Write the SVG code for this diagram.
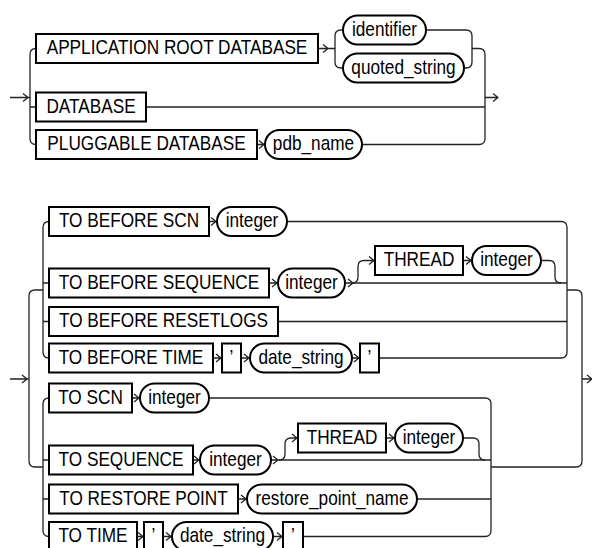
<svg xmlns="http://www.w3.org/2000/svg" width="592" height="548" viewBox="0 0 592 548">
<style>
.b{fill:#fff;stroke:#000;stroke-width:2}
.l{fill:none;stroke:#222;stroke-width:1.3;stroke-linejoin:round}
.t{font-family:"Liberation Sans",Arial,sans-serif;font-size:21px;fill:#000;text-anchor:middle}
</style>
<rect width="592" height="548" fill="#fff"/>
<g id="connectors" class="l">
<path d="M10 97.5H30M23 93.5L28 97.5L23 101.5"/>
<path d="M36 48.5Q30 48.5 30 54.5V138.5Q30 144.5 36 144.5M30 107H36"/>
<path d="M318 48.5H335M323 44.5L328 48.5L323 52.5"/>
<path d="M343 30H341Q335 30 335 36V62Q335 68 341 68H343"/>
<path d="M426 30H466Q472 30 472 36V62Q472 68 466 68H464"/>
<path d="M472 48.5H479Q485 48.5 485 54.5V138.5Q485 144.5 479 144.5H362"/>
<path d="M146 107H485"/>
<path d="M257 144.5H265M259 140.5L264 144.5L259 148.5"/>
<path d="M485 97.5H498M493 93.5L498 97.5L493 101.5"/>
<path d="M10 379H29M22 375L27 379L22 383"/>
<path d="M43 290H35Q29 290 29 296V461Q29 467 35 467H43"/>
<path d="M567 290H576Q582 290 582 296V461Q582 467 576 467H491"/>
<path d="M582 379H592M587 375L592 379L587 383"/>
<path d="M49 221.5Q43 221.5 43 227.5V352Q43 358 49 358M43 283H49M43 321.5H49"/>
<path d="M209 221.5H217M211 217.5L216 221.5L211 225.5"/>
<path d="M287 221.5H561Q567 221.5 567 227.5V352Q567 358 561 358H379"/>
<path d="M269 283H278M272 279L277 283L272 287"/>
<path d="M345 283H567M348 279L353 283L348 287"/>
<path d="M352 283Q358 283 358 277V266.5Q358 260.5 364 260.5H375M369 256.5L374 260.5L369 264.5"/>
<path d="M463 260.5H472M466 256.5L471 260.5L466 264.5"/>
<path d="M541 260.5H549Q555 260.5 555 266.5V277Q555 283 561 283"/>
<path d="M278 321.5H567"/>
<path d="M213 358H222M216 354L221 358L216 362"/>
<path d="M241 358H250M244 354L249 358L244 362"/>
<path d="M352 358H360M354 354L359 358L354 362"/>
<path d="M49 398Q43 398 43 404V530.5Q43 536.5 49 536.5M43 460H49M43 499H49"/>
<path d="M132 398H140M134 394L139 398L134 402"/>
<path d="M209 398H485Q491 398 491 404V530.5Q491 536.5 485 536.5H303"/>
<path d="M193 460H200M194 456L199 460L194 464"/>
<path d="M271 460H491M273 456L278 460L273 464"/>
<path d="M279 460Q285 460 285 454V444Q285 438 291 438H298M292 434L297 438L292 442"/>
<path d="M386 438H395M389 434L394 438L389 442"/>
<path d="M463 438H473Q479 438 479 444V454Q479 460 485 460"/>
<path d="M238 499H247M241 495L246 499L241 503"/>
<path d="M417 499H491"/>
<path d="M137 536.5H144M138 532.5L143 536.5L138 540.5"/>
<path d="M163 536.5H172M166 532.5L171 536.5L166 540.5"/>
<path d="M273 536.5H283M277 532.5L282 536.5L277 540.5"/>
</g>
<g id="n_app"><rect class="b" x="36" y="34" width="282" height="29"/><text class="t" transform="translate(177 54) scale(0.82 1)">APPLICATION ROOT DATABASE</text></g>
<g id="n_identifier"><rect class="b" x="343" y="15.5" width="83" height="29" rx="14.5"/><text class="t" transform="translate(384.5 35.5) scale(0.82 1)">identifier</text></g>
<g id="n_quoted_string"><rect class="b" x="343" y="53.5" width="121" height="29" rx="14.5"/><text class="t" transform="translate(403.5 73.5) scale(0.82 1)">quoted_string</text></g>
<g id="n_database"><rect class="b" x="36" y="92.5" width="110" height="29"/><text class="t" transform="translate(91 112.5) scale(0.82 1)">DATABASE</text></g>
<g id="n_pluggable"><rect class="b" x="36" y="130" width="221" height="29"/><text class="t" transform="translate(146.5 150) scale(0.82 1)">PLUGGABLE DATABASE</text></g>
<g id="n_pdb_name"><rect class="b" x="265" y="130" width="97" height="29" rx="14.5"/><text class="t" transform="translate(313.5 150) scale(0.82 1)">pdb_name</text></g>

<g id="n_tb_scn"><rect class="b" x="49" y="207" width="160" height="29"/><text class="t" transform="translate(129 227) scale(0.82 1)">TO BEFORE SCN</text></g>
<g id="n_tb_scn_int"><rect class="b" x="217" y="207" width="70" height="29" rx="14.5"/><text class="t" transform="translate(252 227) scale(0.82 1)">integer</text></g>
<g id="n_tb_seq"><rect class="b" x="49" y="268.5" width="220" height="29"/><text class="t" transform="translate(159 288.5) scale(0.82 1)">TO BEFORE SEQUENCE</text></g>
<g id="n_tb_seq_int"><rect class="b" x="278" y="268.5" width="67" height="29" rx="14.5"/><text class="t" transform="translate(311.5 288.5) scale(0.82 1)">integer</text></g>
<g id="n_thread1"><rect class="b" x="375" y="246" width="88" height="29"/><text class="t" transform="translate(419 266) scale(0.82 1)">THREAD</text></g>
<g id="n_thread1_int"><rect class="b" x="472" y="246" width="69" height="29" rx="14.5"/><text class="t" transform="translate(506.5 266) scale(0.82 1)">integer</text></g>
<g id="n_tb_resetlogs"><rect class="b" x="49" y="307" width="229" height="29"/><text class="t" transform="translate(163.5 327) scale(0.82 1)">TO BEFORE RESETLOGS</text></g>
<g id="n_tb_time"><rect class="b" x="49" y="343.5" width="164" height="29"/><text class="t" transform="translate(131 363.5) scale(0.82 1)">TO BEFORE TIME</text></g>
<g id="n_q1"><rect class="b" x="222" y="343.5" width="19" height="29"/><text class="t" transform="translate(231.5 363.5) scale(0.82 1)">’</text></g>
<g id="n_date_string1"><rect class="b" x="250" y="343.5" width="102" height="29" rx="14.5"/><text class="t" transform="translate(301 363.5) scale(0.82 1)">date_string</text></g>
<g id="n_q2"><rect class="b" x="360" y="343.5" width="19" height="29"/><text class="t" transform="translate(369.5 363.5) scale(0.82 1)">’</text></g>

<g id="n_to_scn"><rect class="b" x="49" y="383.5" width="83" height="29"/><text class="t" transform="translate(90.5 403.5) scale(0.82 1)">TO SCN</text></g>
<g id="n_to_scn_int"><rect class="b" x="140" y="383.5" width="69" height="29" rx="14.5"/><text class="t" transform="translate(174.5 403.5) scale(0.82 1)">integer</text></g>
<g id="n_to_seq"><rect class="b" x="49" y="445.5" width="144" height="29"/><text class="t" transform="translate(121 465.5) scale(0.82 1)">TO SEQUENCE</text></g>
<g id="n_to_seq_int"><rect class="b" x="200" y="445.5" width="71" height="29" rx="14.5"/><text class="t" transform="translate(235.5 465.5) scale(0.82 1)">integer</text></g>
<g id="n_thread2"><rect class="b" x="298" y="423.5" width="88" height="29"/><text class="t" transform="translate(342 443.5) scale(0.82 1)">THREAD</text></g>
<g id="n_thread2_int"><rect class="b" x="395" y="423.5" width="68" height="29" rx="14.5"/><text class="t" transform="translate(429 443.5) scale(0.82 1)">integer</text></g>
<g id="n_to_restore"><rect class="b" x="49" y="484.5" width="189" height="29"/><text class="t" transform="translate(143.5 504.5) scale(0.82 1)">TO RESTORE POINT</text></g>
<g id="n_restore_point_name"><rect class="b" x="247" y="484.5" width="170" height="29" rx="14.5"/><text class="t" transform="translate(332 504.5) scale(0.82 1)">restore_point_name</text></g>
<g id="n_to_time"><rect class="b" x="49" y="522" width="88" height="29"/><text class="t" transform="translate(93 542) scale(0.82 1)">TO TIME</text></g>
<g id="n_q3"><rect class="b" x="144" y="522" width="19" height="29"/><text class="t" transform="translate(153.5 542) scale(0.82 1)">’</text></g>
<g id="n_date_string2"><rect class="b" x="172" y="522" width="101" height="29" rx="14.5"/><text class="t" transform="translate(222.5 542) scale(0.82 1)">date_string</text></g>
<g id="n_q4"><rect class="b" x="283" y="522" width="20" height="29"/><text class="t" transform="translate(293 542) scale(0.82 1)">’</text></g>
</svg>
